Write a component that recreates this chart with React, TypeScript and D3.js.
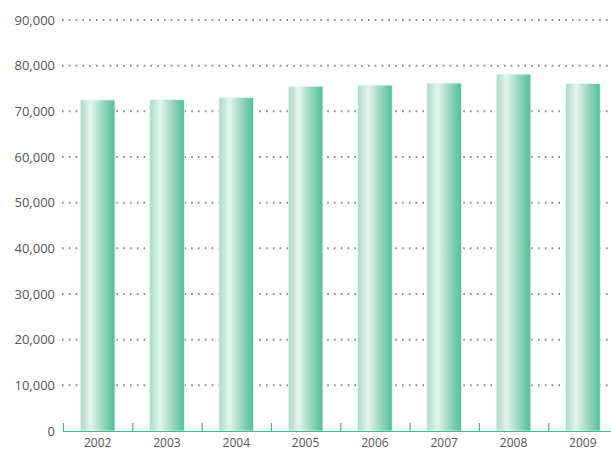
import React from "react";
import * as d3 from "d3";

const years = ["2002", "2003", "2004", "2005", "2006", "2007", "2008", "2009"];
const values = [72500, 72550, 73050, 75500, 75750, 76200, 78150, 76100];
const yTicks = [0, 10000, 20000, 30000, 40000, 50000, 60000, 70000, 80000, 90000];

export default function App() {
  const W = 611, H = 450;
  const left = 63, right = 617.5, top = 20, bottom = 431;
  const x = d3.scaleBand<string>().domain(years).range([left, right]).paddingInner(0).paddingOuter(0);
  const y = d3.scaleLinear().domain([0, 90000]).range([bottom, top]);
  const bw = x.bandwidth() * 0.5;
  const fmt = d3.format(",");
  const font = "'Open Sans', sans-serif";
  return (
    <svg width={W} height={H} style={{ position: "absolute", left: 0, top: 0, background: "#fff" }}>
      <defs>
        <linearGradient id="barGrad" x1="0" x2="1" y1="0" y2="0">
          <stop offset="0" stopColor="#a6dcc6" />
          <stop offset="0.3" stopColor="#e4f4ed" />
          <stop offset="0.65" stopColor="#9ad6bf" />
          <stop offset="1" stopColor="#4fbf99" />
        </linearGradient>
      </defs>
      {yTicks.map((t) => (
        <g key={t}>
          {t > 0 && (
            <line x1={62} x2={W} y1={y(t)} y2={y(t)} stroke="#8a8a8a" strokeWidth={2}
              strokeDasharray="1.6 5.2" />
          )}
          <text x={55} y={y(t) + 4.5} textAnchor="end" fontFamily={font} fontSize={13} fill="#555">
            {fmt(t)}
          </text>
        </g>
      ))}
      {years.map((yr, i) => (
        <rect key={yr} x={(x(yr) as number) + (x.bandwidth() - bw) / 2} y={y(values[i])}
          width={bw} height={bottom - y(values[i])} fill="url(#barGrad)" stroke="#eef8f4" strokeWidth={0.8} />
      ))}
      <line x1={63} x2={W} y1={bottom + 0.5} y2={bottom + 0.5} stroke="#3dba94" strokeWidth={1.2} />
      {years.map((yr) => (
        <line key={"t" + yr} x1={(x(yr) as number) + 0.5} x2={(x(yr) as number) + 0.5} y1={bottom - 8} y2={bottom}
          stroke="#3dba94" strokeWidth={1.2} />
      ))}
      {years.map((yr) => (
        <text key={"l" + yr} x={(x(yr) as number) + x.bandwidth() / 2} y={446.5} textAnchor="middle"
          fontFamily={font} fontSize={12} fill="#555">
          {yr}
        </text>
      ))}
    </svg>
  );
}
